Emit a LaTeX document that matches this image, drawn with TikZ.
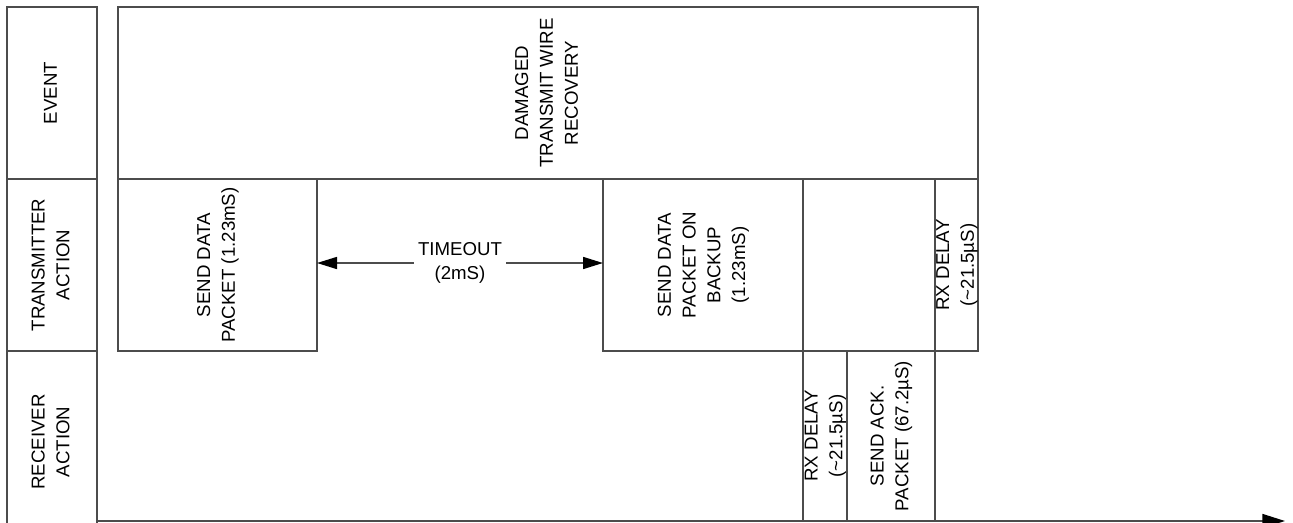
\documentclass[tikz,border=0pt]{standalone}
\usepackage{fontspec}
\setmainfont{Liberation Sans}
\usepackage{graphicx}
\usetikzlibrary{arrows.meta}
\definecolor{linegray}{gray}{0.3}
\newcommand{\vlabel}[1]{\makebox[0pt]{\rotatebox{90}{\begin{tabular}{@{}c@{}}#1\end{tabular}}}}
\newcommand{\tld}{\textasciitilde}
\tikzset{
  cell/.style={draw=linegray, line width=1.2pt, anchor=north west,
    inner sep=0pt, outer sep=0pt, font=\fontsize{14}{18.6}\selectfont},
  size/.style 2 args={minimum width=#1*0.75pt, minimum height=#2*0.75pt},
  dim/.style={draw=linegray, line width=1.2pt, -{Triangle[length=15pt,width=9pt,color=black]}},
}
\begin{document}
\begin{tikzpicture}[x=0.75pt,y=-0.75pt]
\useasboundingbox (0,0) rectangle (1293,522);
% row labels
\node[cell, size={90}{172}] (evlbl) at (7,7) {\vlabel{EVENT}};
\node[cell, size={90}{172}] (txlbl) at (7,179) {\vlabel{TRANSMITTER\\ACTION}};
\node[cell, size={90}{182}] (rxlbl) at (7,351) {\vlabel{RECEIVER\\ACTION}};
% event row
\node[cell, size={860}{172}] (event) at (118,7) {\vlabel{DAMAGED\\TRANSMIT WIRE\\RECOVERY}};
% transmitter row
\node[cell, size={199}{172}] (pkt) at (118,179) {\vlabel{SEND DATA\\PACKET (1.23mS)}};
\node[cell, size={200}{172}] (backup) at (603,179) {\vlabel{SEND DATA\\PACKET ON\\BACKUP\\(1.23mS)}};
\node[cell, size={132}{172}] (gap) at (803,179) {};
\node[cell, size={43}{172}] (txdelay) at (935,179) {\vlabel{RX DELAY\\(\tld21.5µS)}};
% receiver row
\node[cell, size={44}{170}] (rxdelay) at (803,351) {\vlabel{RX DELAY\\(\tld21.5µS)}};
\node[cell, size={88}{170}] (ack) at (847,351) {\vlabel{SEND ACK.\\PACKET (67.2µS)}};
% timeout
\node[font=\fontsize{14}{18.6}\selectfont, align=center, inner xsep=3pt, inner ysep=0pt]
  (timeout) at (460,263) {TIMEOUT\\(2mS)};
\draw[dim] (timeout.west) -- (pkt.east |- timeout.west);
\draw[dim] (timeout.east) -- (backup.west |- timeout.east);
% time axis
\coordinate (t0) at (97,521);
\coordinate (tend) at (1285,521);
\draw[draw=linegray, line width=1.2pt, -{Triangle[length=17pt,width=10.5pt,color=black]}] (t0) -- (tend);
\end{tikzpicture}
\end{document}
